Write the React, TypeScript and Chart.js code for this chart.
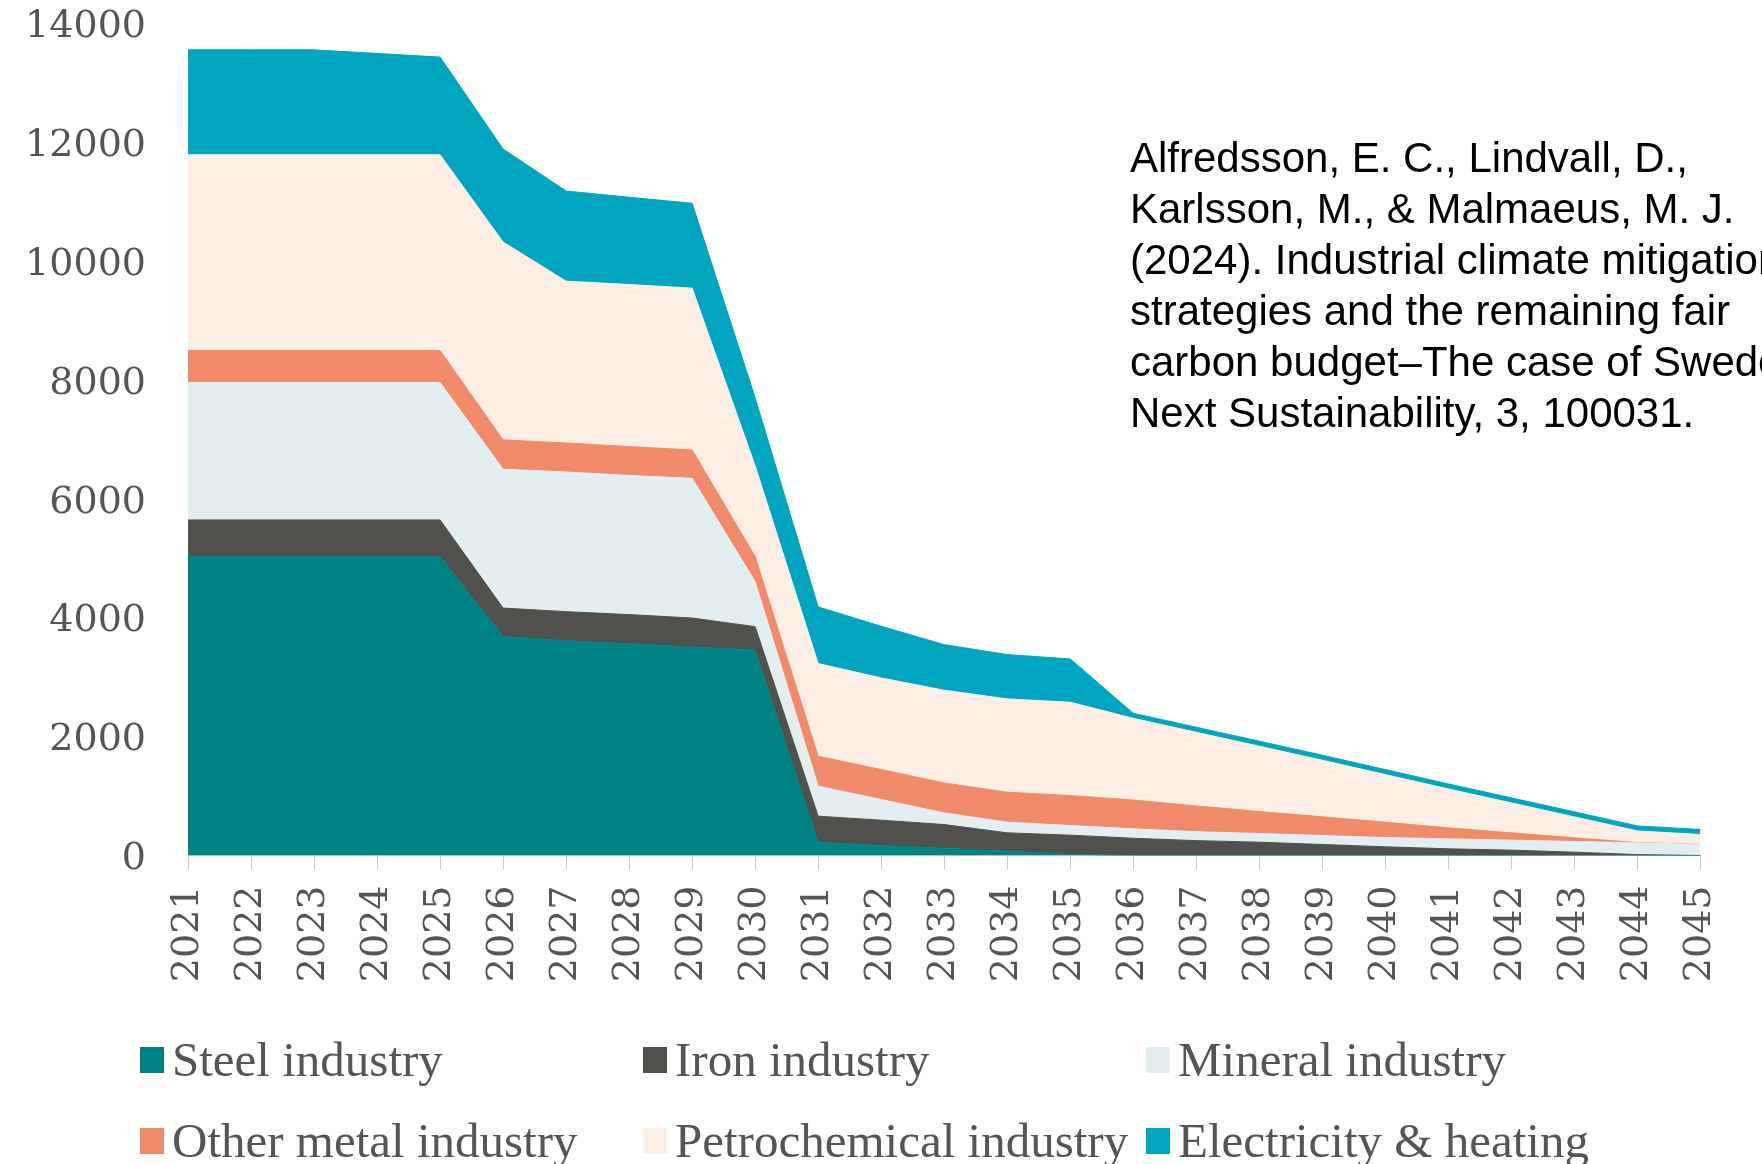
import React, { useEffect, useRef } from 'react';
import { Chart, registerables } from 'chart.js';

Chart.register(...registerables);

const years = ['2021','2022','2023','2024','2025','2026','2027','2028','2029','2030','2031','2032','2033','2034','2035','2036','2037','2038','2039','2040','2041','2042','2043','2044','2045'];

const steel = [5025,5025,5025,5025,5025,3680,3610,3560,3505,3456,224,168,120,70,20,0,0,0,0,0,0,0,0,0,0];
const iron = [617,617,617,617,617,480,490,490,488,392,437,426,400,311,322,290,250,224,185,146,112,90,56,15,0];
const mineral = [2310,2310,2310,2310,2310,2334,2348,2340,2350,757,504,347,196,179,162,158,150,146,151,156,168,168,179,198,185];
const otherMetal = [538,538,538,538,538,493,488,485,475,420,504,504,504,504,504,485,434,370,314,258,185,123,62,5,0];
const petrochem = [3290,3290,3290,3290,3290,3327,2720,2725,2721,1526,1558,1541,1558,1569,1569,1373,1237,1097,951,800,654,503,352,195,168];
const electricity = [1765,1765,1765,1705,1643,1563,1515,1467,1427,1143,953,868,767,745,728,85,85,85,85,85,85,85,85,85,85];

const seriesNames = ['Steel industry','Iron industry','Mineral industry','Other metal industry','Petrochemical industry','Electricity & heating'];
const seriesColors = ['#008384','#50504c','#e2eef0','#f08a6b','#fceee4','#00a6bf'];
const seriesData = [steel, iron, mineral, otherMetal, petrochem, electricity];

const yTicks = [0,2000,4000,6000,8000,10000,12000,14000];

const citationLines = [
  'Alfredsson, E. C., Lindvall, D.,',
  'Karlsson, M., & Malmaeus, M. J.',
  '(2024). Industrial climate mitigation',
  'strategies and the remaining fair',
  'carbon budget\u2013The case of Sweden.',
  'Next Sustainability, 3, 100031.',
];

const legendPos = [
  { left: 140, top: 1047 },
  { left: 643, top: 1047 },
  { left: 1146, top: 1047 },
  { left: 140, top: 1128 },
  { left: 643, top: 1128 },
  { left: 1146, top: 1128 },
];

export default function App() {
  const ref = useRef<HTMLCanvasElement>(null);

  useEffect(() => {
    const axisFont = { family: 'DejaVu Serif', size: 38 };
    const chart = new Chart(ref.current as HTMLCanvasElement, {
      type: 'line',
      data: {
        labels: years,
        datasets: seriesData.map((d, i) => ({
          label: seriesNames[i],
          data: d,
          backgroundColor: seriesColors[i],
          borderColor: seriesColors[i],
          borderWidth: 1,
          pointRadius: 0,
          tension: 0,
          fill: i === 0 ? 'origin' : '-1',
        })),
      },
      options: {
        responsive: false,
        animation: false,
        layout: { padding: { top: 0, right: 48, left: 0, bottom: 0 } },
        plugins: { legend: { display: false }, tooltip: { enabled: false } },
        scales: {
          x: {
            offset: false,
            grid: { display: true, drawOnChartArea: false, drawTicks: true, tickLength: 14, color: '#c8c8c8' },
            border: { display: true, color: '#c8c8c8' },
            ticks: { minRotation: 90, maxRotation: 90, autoSkip: false, padding: 16, color: '#555', font: axisFont },
            afterFit: (s: any) => { s.height = 308.5; },
          },
          y: {
            stacked: true,
            min: 0,
            max: 14000,
            afterBuildTicks: (s: any) => { s.ticks = yTicks.map((v) => ({ value: v })); },
            ticks: { padding: 0, labelOffset: 4, color: '#555', font: axisFont, callback: (v: any) => String(v) },
            grid: { display: true, drawOnChartArea: false, drawTicks: true, tickLength: 42, tickColor: 'rgba(0,0,0,0)', color: 'rgba(0,0,0,0)' },
            border: { display: false },
            afterFit: (s: any) => { s.width = 188; },
          },
        },
      },
    });
    return () => chart.destroy();
  }, []);

  return (
    <div style={{ position: 'absolute', left: 0, top: 0, width: 1762, height: 1164, overflow: 'hidden', background: '#fff' }}>
      <canvas ref={ref} width={1762} height={1164} style={{ position: 'absolute', left: 0, top: 0, width: 1762, height: 1164 }} />
      <div style={{ position: 'absolute', left: 1130, top: 132, fontFamily: '"Liberation Sans", Arial, sans-serif', fontSize: 42, lineHeight: '51px', color: '#000', whiteSpace: 'pre' }}>
        {citationLines.join('\n')}
      </div>
      {seriesNames.map((name, i) => (
        <div key={name}>
          <div style={{ position: 'absolute', left: legendPos[i].left, top: legendPos[i].top, width: 24, height: 26, background: seriesColors[i] }} />
          <div style={{ position: 'absolute', left: legendPos[i].left + 32, top: legendPos[i].top - 14, fontFamily: '"Liberation Serif", serif', fontSize: 49, lineHeight: '54px', color: '#555', whiteSpace: 'nowrap' }}>
            {name}
          </div>
        </div>
      ))}
    </div>
  );
}
